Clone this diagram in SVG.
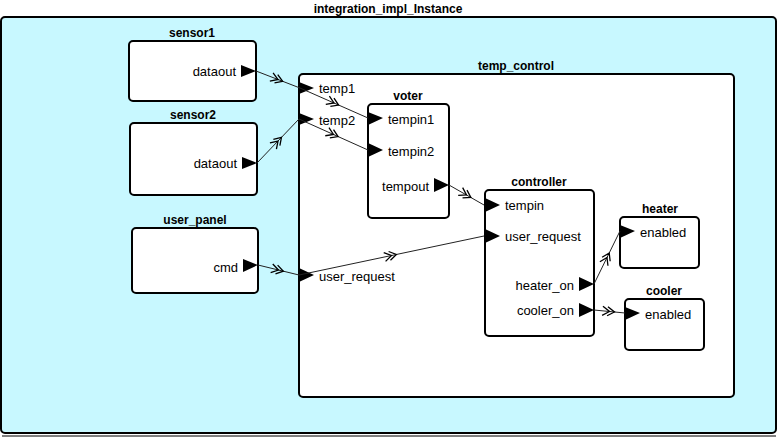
<svg xmlns="http://www.w3.org/2000/svg" width="778" height="437" viewBox="0 0 778 437">
<style>
.box{fill:#fff;stroke:#000;stroke-width:2}
.title{font-family:"Liberation Sans",Arial,sans-serif;font-size:12px;font-weight:bold;text-anchor:middle;fill:#000}
.lbl{font-family:"Liberation Sans",Arial,sans-serif;font-size:13px;fill:#000}
.r{text-anchor:end}
.port{fill:#000}
.conn{fill:none;stroke:#222;stroke-width:1;marker-mid:url(#chev)}
</style>
<defs>
<marker id="chev" markerUnits="userSpaceOnUse" markerWidth="20" markerHeight="20" refX="0" refY="0" viewBox="-10 -10 20 20" orient="auto" overflow="visible">
<path d="M-7,-4.5 L0,0 L-7,4.5 M-2,-4.5 L5,0 L-2,4.5" fill="none" stroke="#000" stroke-width="1.3"/>
</marker>
</defs>
<g id="integration_impl_Instance">
<rect x="1" y="17" width="775" height="416" rx="4" fill="#c8f8ff" stroke="#000" stroke-width="2"/>
<line x1="2" y1="436" x2="776" y2="436" stroke="#000" stroke-width="1"/>
<text class="title" x="388" y="13">integration_impl_Instance</text>
</g>
<g id="sensor1">
<rect class="box" x="129" y="41" width="127" height="60" rx="4"/>
<text class="title" x="192" y="37">sensor1</text>
<polygon class="port" points="241,65 256,71 241,77"/>
<text class="lbl r" x="236" y="76">dataout</text>
</g>
<g id="sensor2">
<rect class="box" x="130" y="123" width="127" height="72" rx="4"/>
<text class="title" x="193" y="119">sensor2</text>
<polygon class="port" points="242,157 257,163 242,169"/>
<text class="lbl r" x="237" y="168">dataout</text>
</g>
<g id="user_panel">
<rect class="box" x="132" y="228" width="126" height="65" rx="4"/>
<text class="title" x="195" y="224">user_panel</text>
<polygon class="port" points="243,259 258,265 243,272"/>
<text class="lbl r" x="238" y="272">cmd</text>
</g>
<g id="temp_control">
<rect class="box" x="299" y="74" width="435" height="323" rx="4"/>
<text class="title" x="516" y="70">temp_control</text>
<polygon class="port" points="299,82 314,88 299,94"/>
<text class="lbl" x="319" y="93">temp1</text>
<polygon class="port" points="299,113 314,119 299,125"/>
<text class="lbl" x="319" y="125">temp2</text>
<polygon class="port" points="299,268 314,275 299,282"/>
<text class="lbl" x="319" y="281">user_request</text>
</g>
<g id="voter">
<rect class="box" x="368" y="104" width="81" height="114" rx="4"/>
<text class="title" x="408" y="100">voter</text>
<polygon class="port" points="368,112 383,118 368,125"/>
<text class="lbl" x="388" y="124">tempin1</text>
<polygon class="port" points="368,143 383,150 368,157"/>
<text class="lbl" x="388" y="156">tempin2</text>
<polygon class="port" points="434,178 449,185 434,192"/>
<text class="lbl r" x="429" y="191">tempout</text>
</g>
<g id="controller">
<rect class="box" x="485" y="190" width="109" height="146" rx="4"/>
<text class="title" x="539" y="186">controller</text>
<polygon class="port" points="485,198 500,205 485,212"/>
<text class="lbl" x="505" y="210">tempin</text>
<polygon class="port" points="485,229 500,236 485,243"/>
<text class="lbl" x="505" y="241">user_request</text>
<polygon class="port" points="579,277 594,284 579,291"/>
<text class="lbl r" x="574" y="290">heater_on</text>
<polygon class="port" points="579,303 594,310 579,317"/>
<text class="lbl r" x="574" y="315">cooler_on</text>
</g>
<g id="heater">
<rect class="box" x="620" y="217" width="79" height="51" rx="4"/>
<text class="title" x="660" y="213">heater</text>
<polygon class="port" points="620,225 635,231 620,238"/>
<text class="lbl" x="640" y="237">enabled</text>
</g>
<g id="cooler">
<rect class="box" x="625" y="299" width="79" height="51" rx="4"/>
<text class="title" x="664" y="295">cooler</text>
<polygon class="port" points="625,307 640,313 625,320"/>
<text class="lbl" x="645" y="319">enabled</text>
</g>
<g id="connectors">
<polyline class="conn" points="256,71 278,79.5 300,88"/>
<polyline class="conn" points="300,88 334,103 368,118"/>
<polyline class="conn" points="257,163 278,141 299,119"/>
<polyline class="conn" points="299,119 333.5,134.5 368,150"/>
<polyline class="conn" points="449,185 466.5,195 484,205"/>
<polyline class="conn" points="258,265 278.5,270 299,275"/>
<polyline class="conn" points="299,275 391.5,255.5 484,236"/>
<polyline class="conn" points="594,284 607,257.5 620,231"/>
<polyline class="conn" points="594,310 609.5,311.5 625,313"/>
</g>
</svg>
